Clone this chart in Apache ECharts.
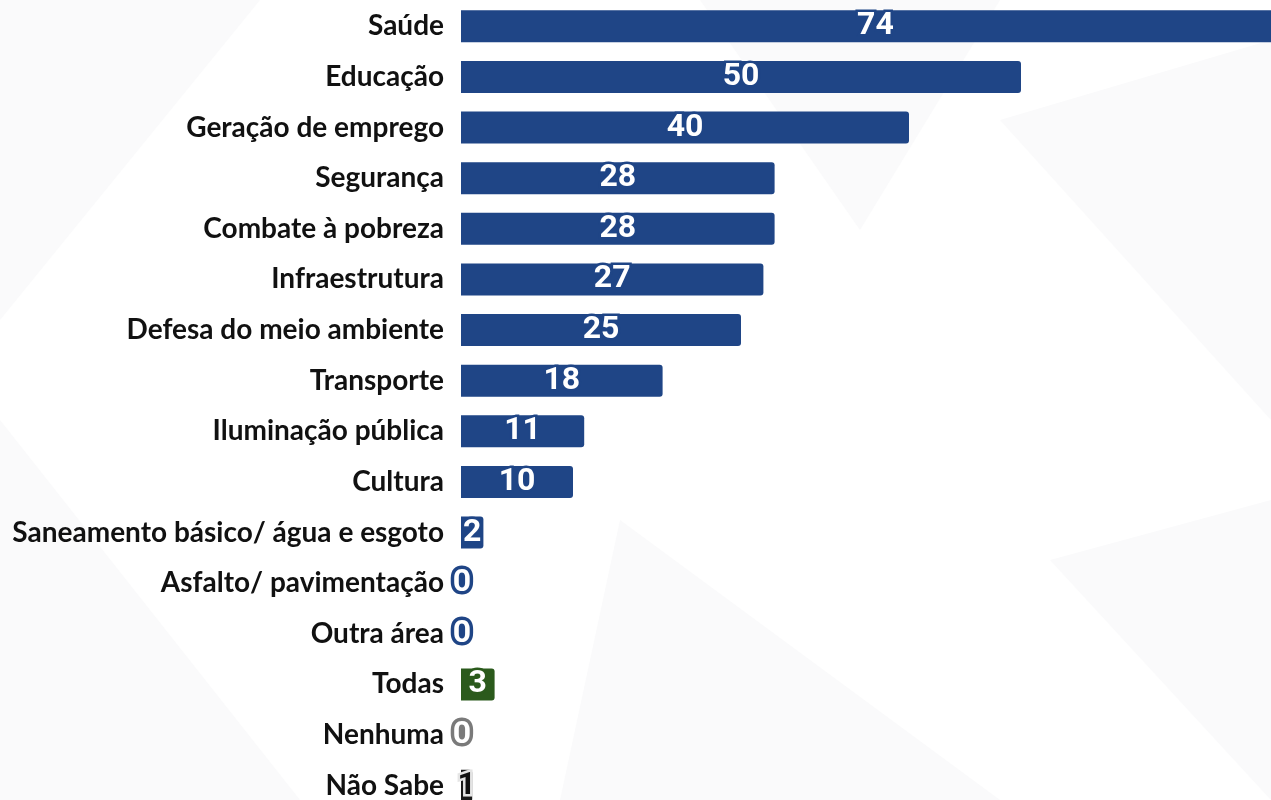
<!DOCTYPE html>
<html>
<head>
<meta charset="utf-8">
<script src="https://cdn.jsdelivr.net/npm/echarts@6/dist/echarts.min.js"></script>
<style>
  html, body { margin: 0; padding: 0; background: #fff; }
  #chart { width: 1271px; height: 800px; }
</style>
</head>
<body>
<div id="chart"></div>
<script>
const categories = [
  'Saúde', 'Educação', 'Geração de emprego', 'Segurança', 'Combate à pobreza',
  'Infraestrutura', 'Defesa do meio ambiente', 'Transporte', 'Iluminação pública',
  'Cultura', 'Saneamento básico/ água e esgoto', 'Asfalto/ pavimentação',
  'Outra área', 'Todas', 'Nenhuma', 'Não Sabe'
]
const values = [74, 50, 40, 28, 28, 27, 25, 18, 11, 10, 2, 0, 0, 3, 0, 1]
const barColors = [
  '#1f4586', '#1f4586', '#1f4586', '#1f4586', '#1f4586', '#1f4586', '#1f4586',
  '#1f4586', '#1f4586', '#1f4586', '#1f4586', '#1f4586', '#1f4586',
  '#2b5a1c', '#7a7a7a', '#1a1a1a'
]

const chart = echarts.init(document.getElementById('chart'))

// faint background shapes
const bgShapes = [
  [[0, 0], [260, 0], [0, 320]],
  [[700, 0], [1000, 0], [860, 230]],
  [[1000, 120], [1271, 40], [1271, 420]],
  [[0, 420], [300, 800], [0, 800]],
  [[620, 520], [1000, 800], [560, 800]],
  [[1050, 560], [1271, 500], [1271, 800]]
]

const option = {
  backgroundColor: '#ffffff',
  animation: false,
  graphic: bgShapes.map(p => ({
    type: 'polygon',
    silent: true,
    z: -10,
    shape: { points: p },
    style: { fill: '#fafafb' }
  })),
  grid: { left: 461, top: 1, width: 896, height: 810, outerBoundsMode: 'none' },
  xAxis: {
    type: 'value',
    min: 0,
    max: 80,
    show: false
  },
  yAxis: {
    type: 'category',
    inverse: true,
    data: categories,
    axisLine: { show: false },
    axisTick: { show: false },
    axisLabel: {
      margin: 17,
      color: '#111',
      fontFamily: 'Lato',
      fontWeight: 'bold',
      fontSize: 28
    }
  },
  series: [
    {
      type: 'bar',
      barWidth: 32,
      data: values.map((v, i) => {
        const label = {
          color: i === 15 ? '#111' : '#fff',
          textBorderColor: i === 15 ? '#e5e5e5' : barColors[i]
        }
        if (v === 0) {
          // zero bars: centred on the axis start, heavier outline
          label.position = [1, '50%']
          label.align = 'center'
          label.verticalAlign = 'middle'
          label.textBorderWidth = 7
        }
        return { value: v, itemStyle: { color: barColors[i] }, label }
      }),
      itemStyle: { borderRadius: [0, 3, 3, 0] },
      label: {
        show: true,
        position: 'inside',
        overflow: 'none',
        fontFamily: 'Roboto',
        fontWeight: 'bold',
        fontSize: 32,
        textBorderWidth: 5
      }
    }
  ]
}

chart.setOption(option)
window.addEventListener('resize', () => chart.resize())
</script>
</body>
</html>
